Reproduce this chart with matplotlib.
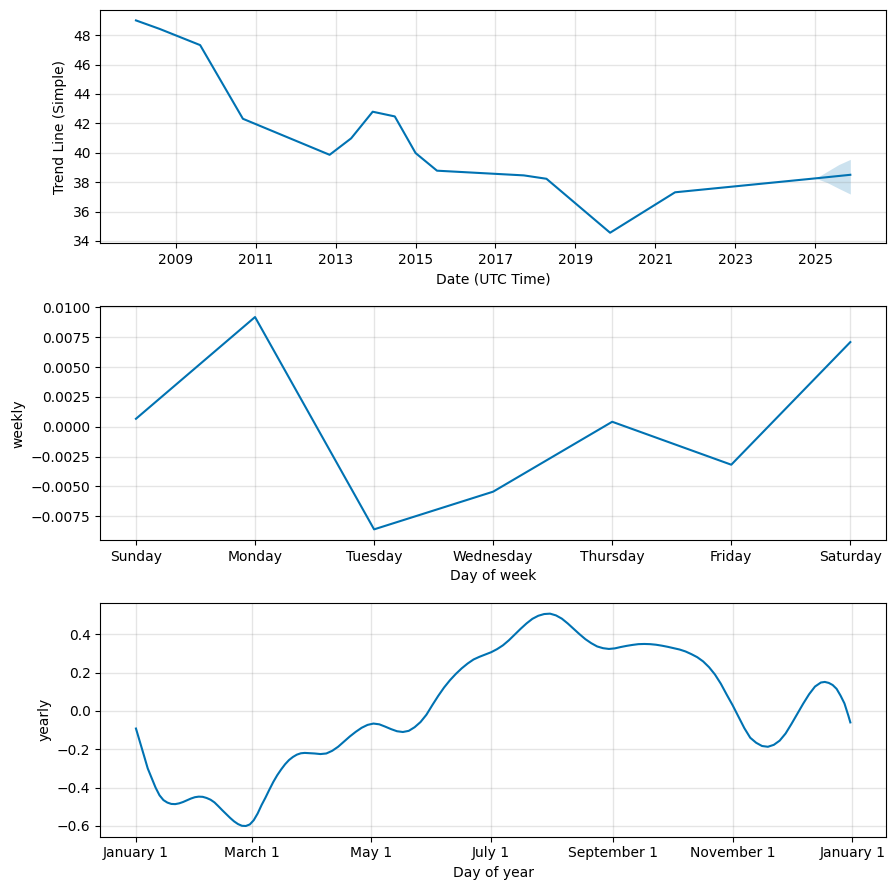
import matplotlib
matplotlib.use("Agg")
import matplotlib.pyplot as plt
import matplotlib.dates as mdates
from matplotlib.ticker import FuncFormatter
import pandas as pd

LINE_COLOR = "#0072B2"

# trend component
trend_dates = [
    "2008-01-01", "2008-08-05", "2009-08-10", "2010-09-05", "2012-11-06",
    "2013-05-22", "2013-12-05", "2014-06-25", "2015-01-01", "2015-07-16",
    "2017-09-17", "2018-04-12", "2019-11-15", "2021-07-01", "2025-01-08",
    "2025-11-20",
]
trend_values = [
    49.0, 48.42, 47.32, 42.31, 39.86,
    40.98, 42.79, 42.47, 39.98, 38.78,
    38.46, 38.23, 34.56, 37.31, 38.26,
    38.5,
]
band_dates = ["2025-01-08", "2025-04-20", "2025-08-07", "2025-11-20"]
band_upper = [38.26, 38.72, 39.2, 39.55]
band_lower = [38.26, 37.98, 37.57, 37.19]
trend_tick_years = [2009, 2011, 2013, 2015, 2017, 2019, 2021, 2023, 2025]

# weekly component
week_days = ["Sunday", "Monday", "Tuesday", "Wednesday", "Thursday", "Friday", "Saturday"]
weekly_values = [0.00067, 0.0092, -0.0086, -0.00544, 0.00042, -0.00318, 0.0071]

# yearly component (day offset from Jan 1)
year_days = [
    0, 2, 4, 6, 8, 10, 12, 14, 16, 18, 20, 22, 24, 26, 28, 30, 32, 34, 36, 38,
    40, 42, 44, 46, 48, 50, 52, 54, 56, 58, 60, 62, 64, 66, 68, 70, 72, 74, 76, 78,
    80, 82, 84, 86, 88, 91, 94, 97, 100, 103, 106, 109, 112, 115, 118, 121, 124, 127,
    130, 133, 136, 139, 142, 145, 148, 151, 154, 157, 160, 163, 166, 169, 172, 175,
    178, 181, 184, 187, 190, 193, 196, 199, 202, 205, 208, 211, 214, 217, 220, 223,
    226, 229, 232, 235, 238, 241, 244, 247, 250, 253, 256, 259, 262, 265, 268, 271,
    274, 277, 280, 283, 286, 289, 292, 295, 298, 301, 304, 307, 310, 313, 316, 319,
    322, 325, 328, 331, 334, 337, 340, 343, 346, 349, 351, 353, 355, 357, 359, 361,
    363, 364,
]
yearly_values = [
    -0.092, -0.160, -0.230, -0.300, -0.350, -0.400, -0.440, -0.465, -0.478, -0.485,
    -0.486, -0.482, -0.475, -0.466, -0.457, -0.450, -0.447, -0.448, -0.454, -0.463,
    -0.477, -0.497, -0.518, -0.538, -0.558, -0.576, -0.590, -0.599, -0.600, -0.592,
    -0.570, -0.535, -0.491, -0.452, -0.410, -0.370, -0.335, -0.305, -0.278, -0.256,
    -0.240, -0.228, -0.221, -0.219, -0.220, -0.222, -0.225, -0.222, -0.208, -0.187,
    -0.160, -0.133, -0.109, -0.088, -0.073, -0.066, -0.070, -0.082, -0.095, -0.106,
    -0.110, -0.104, -0.085, -0.058, -0.020, 0.030, 0.078, 0.122, 0.160, 0.193,
    0.222, 0.247, 0.268, 0.282, 0.294, 0.306, 0.322, 0.342, 0.368, 0.398,
    0.428, 0.456, 0.480, 0.496, 0.505, 0.507, 0.498, 0.481, 0.456, 0.428,
    0.400, 0.374, 0.353, 0.336, 0.327, 0.323, 0.326, 0.333, 0.339, 0.344,
    0.348, 0.349, 0.348, 0.345, 0.340, 0.334, 0.327, 0.320, 0.310, 0.296,
    0.280, 0.258, 0.228, 0.190, 0.142, 0.085, 0.030, -0.030, -0.090, -0.140,
    -0.166, -0.183, -0.187, -0.177, -0.155, -0.118, -0.068, -0.015, 0.038, 0.087,
    0.127, 0.148, 0.151, 0.146, 0.135, 0.115, 0.080, 0.039, -0.025, -0.060,
]


def style_grid(ax):
    ax.grid(True, which="major", c="gray", ls="-", lw=1, alpha=0.2)


def plot_trend(ax):
    x = pd.to_datetime(trend_dates)
    ax.plot(x, trend_values, ls="-", c=LINE_COLOR)
    ax.fill_between(pd.to_datetime(band_dates), band_lower, band_upper,
                    color=LINE_COLOR, alpha=0.2, lw=0)
    ax.set_xticks(pd.to_datetime([f"{y}-01-01" for y in trend_tick_years]))
    ax.xaxis.set_major_formatter(mdates.DateFormatter("%Y"))
    style_grid(ax)
    ax.set_xlabel("Date (UTC Time)")
    ax.set_ylabel("Trend Line (Simple)")


def plot_weekly(ax):
    ax.plot(range(len(week_days)), weekly_values, ls="-", c=LINE_COLOR)
    ax.set_xticks(range(len(week_days)))
    ax.set_xticklabels(week_days)
    style_grid(ax)
    ax.set_xlabel("Day of week")
    ax.set_ylabel("weekly")


def plot_yearly(ax):
    x = pd.Timestamp("2017-01-01") + pd.to_timedelta(year_days, unit="D")
    ax.plot(x, yearly_values, ls="-", c=LINE_COLOR)
    ax.xaxis.set_major_locator(mdates.MonthLocator(bymonth=[1, 3, 5, 7, 9, 11]))
    ax.xaxis.set_major_formatter(
        FuncFormatter(lambda v, pos: "{dt:%B} {dt.day}".format(dt=mdates.num2date(v))))
    style_grid(ax)
    ax.set_xlabel("Day of year")
    ax.set_ylabel("yearly")


def main():
    fig, axes = plt.subplots(3, 1, figsize=(8.95, 8.9), dpi=100)
    plot_trend(axes[0])
    plot_weekly(axes[1])
    plot_yearly(axes[2])
    fig.subplots_adjust(left=0.112, right=0.99, top=0.989, bottom=0.06, hspace=0.27)
    fig.savefig("out.png", dpi=100)


if __name__ == "__main__":
    main()
